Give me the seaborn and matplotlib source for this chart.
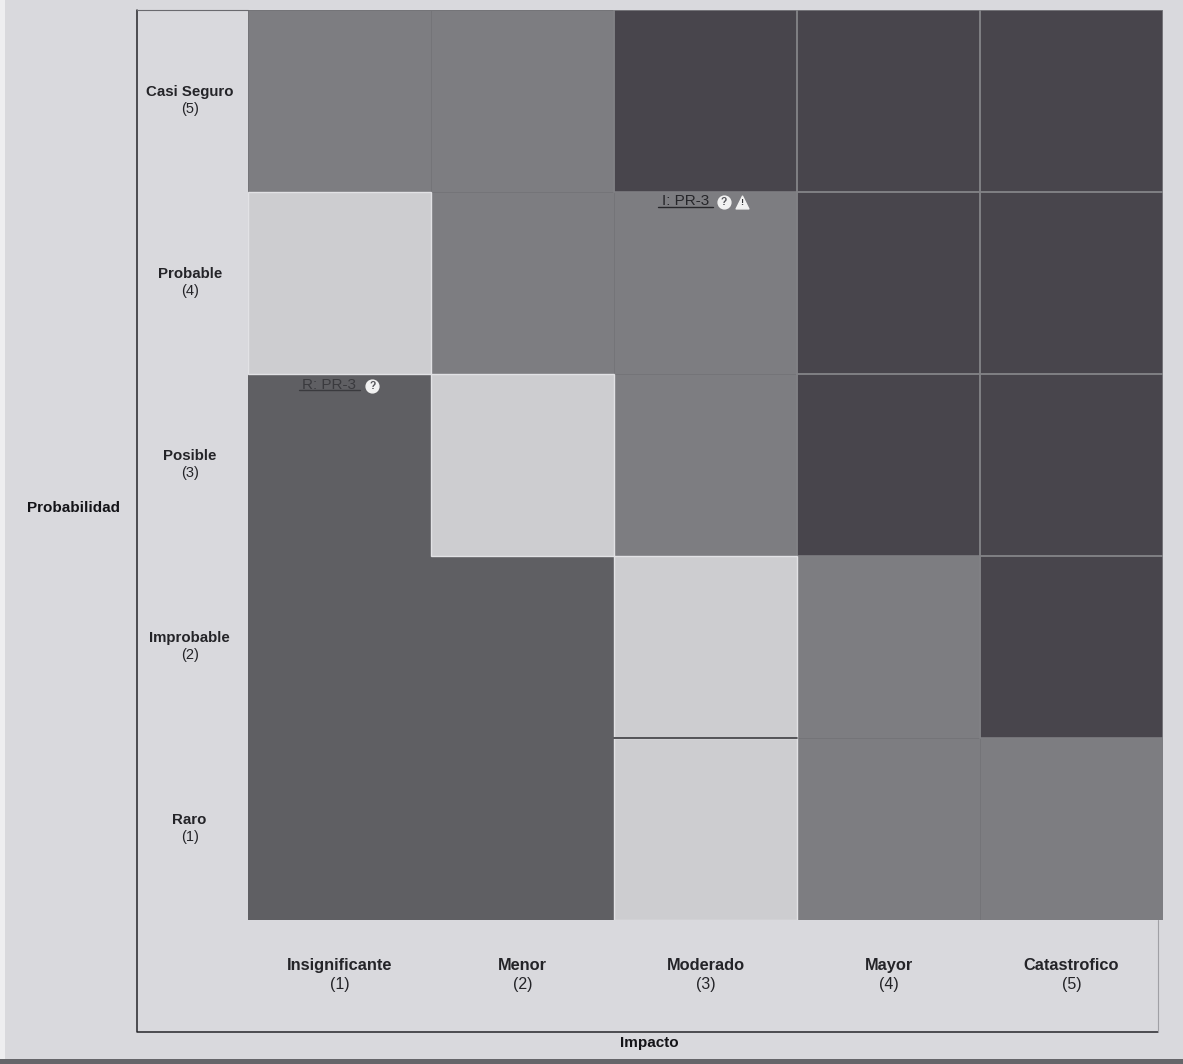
import numpy as np
import matplotlib
matplotlib.use('Agg')
import matplotlib.pyplot as plt
from matplotlib.colors import ListedColormap
from matplotlib.patches import Rectangle
import seaborn as sns

# Risk matrix values, top row is Casi Seguro
impacto = ['Insignificante', 'Menor', 'Moderado', 'Mayor', 'Catastrofico']
probabilidad = ['Casi Seguro', 'Probable', 'Posible', 'Improbable', 'Raro']
impacto_n = [1, 2, 3, 4, 5]
probabilidad_n = [5, 4, 3, 2, 1]
nivel = [
    [2, 2, 3, 3, 3],
    [0, 2, 2, 3, 3],
    [1, 0, 2, 3, 3],
    [1, 1, 0, 2, 3],
    [1, 1, 0, 2, 2],
]
# level colours, light to darkest
colores = ['#cdcdd0', '#5f5f63', '#7d7d81', '#48454c']

sns.set_theme(style='white')
plt.rcParams['font.family'] = ['Liberation Sans', 'DejaVu Sans']

W, H = 1183, 1064
fig = plt.figure(figsize=(W / 100, H / 100), dpi=100, facecolor='#d9d9dd')
ax = fig.add_axes([248 / W, 1 - 920 / H, (1163 - 248) / W, (920 - 10) / H])

sns.heatmap(np.array(nivel), ax=ax, cmap=ListedColormap(colores), vmin=-0.5, vmax=3.5,
            cbar=False, xticklabels=False, yticklabels=False, square=False)

# faint grid lines only on the darker cells
for r, fila in enumerate(nivel):
    for c, v in enumerate(fila):
        if v == 3:
            ax.add_patch(Rectangle((c, r), 1, 1, fill=False, ec='#828286', lw=1.1, zorder=3))
        elif v == 2:
            ax.add_patch(Rectangle((c, r), 1, 1, fill=False, ec='#747478', lw=0.7, zorder=2))
        elif v == 0:
            ax.add_patch(Rectangle((c, r), 1, 1, fill=False, ec='#e2e2e5', lw=1, zorder=4))

# dark edge above the lowest light cell
ax.plot([2, 3], [4, 4], color='#3c3c40', lw=1.2, zorder=5)

# axis labels, bold name with the number below
texto = '#242428'
for i, (nombre, n) in enumerate(zip(impacto, impacto_n)):
    ax.annotate(nombre, (i + 0.5, 5), xytext=(0, -32.5), textcoords='offset points', ha='center',
                va='center', fontsize=11.8, fontweight='bold', color=texto, annotation_clip=False)
    ax.annotate(f'({n})', (i + 0.5, 5), xytext=(0, -46.5), textcoords='offset points', ha='center',
                va='center', fontsize=11.5, color=texto, annotation_clip=False)
for i, (nombre, n) in enumerate(zip(probabilidad, probabilidad_n)):
    ax.annotate(nombre, (0, i + 0.5), xytext=(-42, 6.5), textcoords='offset points', ha='center',
                va='center', fontsize=10.8, fontweight='bold', color=texto, annotation_clip=False)
    ax.annotate(f'({n})', (0, i + 0.5), xytext=(-42, -6), textcoords='offset points', ha='center',
                va='center', fontsize=10.5, color=texto, annotation_clip=False)

fig.text(73 / W, 1 - 508 / H, 'Probabilidad', ha='center', va='center', fontsize=11,
         fontweight='bold', color='#141418')
fig.text(649 / W, 1 - 1043 / H, 'Impacto', ha='center', va='center', fontsize=11,
         fontweight='bold', color='#141418')

# frame around labels and matrix
fig.add_artist(plt.Line2D([137 / W, 137 / W, 1158 / W], [1 - 10 / H, 1 - 1032 / H, 1 - 1032 / H],
                          color='#26262a', lw=1.1))
fig.add_artist(plt.Line2D([137 / W, 248 / W], [1 - 10 / H, 1 - 10 / H], color='#6a6a6f', lw=0.8))
fig.add_artist(plt.Line2D([1158 / W, 1158 / W], [1 - 920 / H, 1 - 1032 / H], color='#a0a0a5', lw=0.8))

# scan edges
fig.add_artist(Rectangle((0, 0), 5 / W, 1, transform=fig.transFigure, fc='#eeeef0', ec='none'))
fig.add_artist(Rectangle((0, 0), 1, 5 / H, transform=fig.transFigure, fc='#66666a', ec='none'))

# risk markers
marca = '#26262a'
ax.text(2.39, 1.05, 'I: PR-3', ha='center', va='center', fontsize=11, color=marca, zorder=6)
ax.plot([2.24, 2.54], [1.08, 1.08], color=marca, lw=1, zorder=6)
ax.scatter([2.6], [1.055], s=85, color='#f2f2f2', zorder=6)
ax.text(2.6, 1.055, '?', ha='center', va='center', fontsize=7.5, fontweight='bold', color='#55555a', zorder=7)
ax.scatter([2.7], [1.055], s=85, marker='^', color='#f2f2f2', zorder=6)
ax.text(2.7, 1.06, '!', ha='center', va='center', fontsize=6.5, fontweight='bold', color='#333337', zorder=7)

ax.text(0.44, 2.06, 'R: PR-3', ha='center', va='center', fontsize=11, color='#3a3a3e', zorder=6)
ax.plot([0.28, 0.61], [2.09, 2.09], color='#3a3a3e', lw=1, zorder=6)
ax.scatter([0.68], [2.065], s=85, color='#f2f2f2', zorder=6)
ax.text(0.68, 2.065, '?', ha='center', va='center', fontsize=7.5, fontweight='bold', color='#55555a', zorder=7)

fig.savefig('out.png', dpi=100, facecolor=fig.get_facecolor())
